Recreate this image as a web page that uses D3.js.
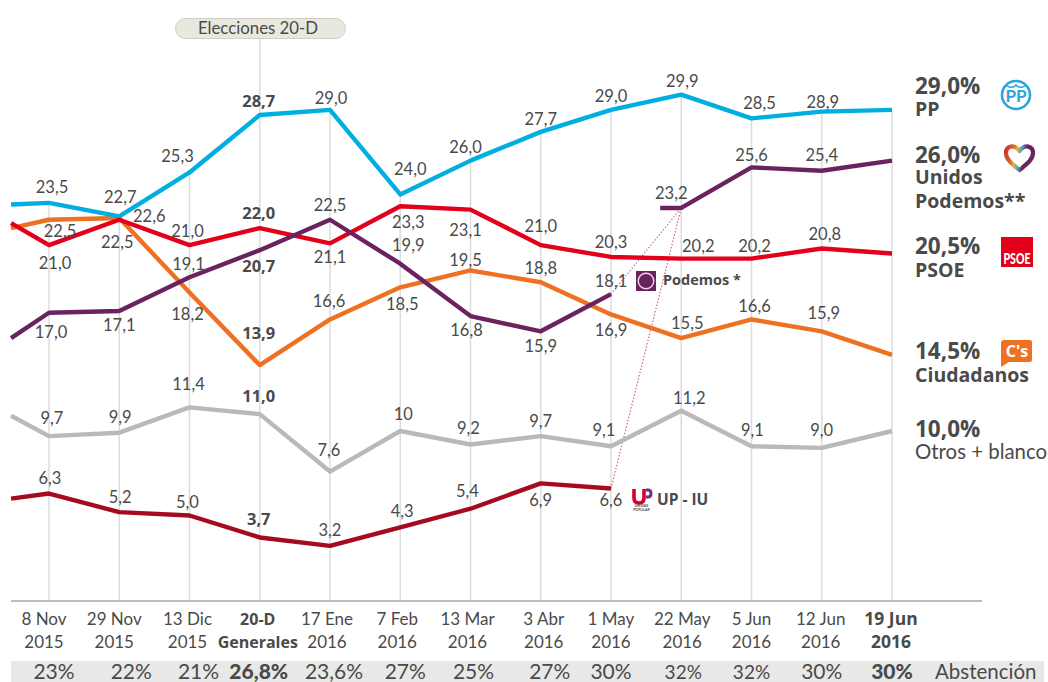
<!DOCTYPE html>
<html lang="es">
<head>
<meta charset="utf-8">
<script src="https://cdn.jsdelivr.net/npm/d3@7"></script>
<style>
  html, body { margin: 0; padding: 0; background: #fff; }
  svg { display: block; }
  text { font-family: Lato, "Open Sans", sans-serif; fill: #4a4a4a; }
  text.strong { font-family: "Open Sans", Lato, sans-serif; font-weight: 700; }
</style>
</head>
<body>
<svg id="chart" width="1048" height="682"></svg>
<script>
// Poll dates
const dateLine1 = ["8 Nov","29 Nov","13 Dic","20-D","17 Ene","7 Feb","13 Mar","3 Abr","1 May","22 May","5 Jun","12 Jun","19 Jun"];
const dateLine2 = ["2015","2015","2015","Generales","2016","2016","2016","2016","2016","2016","2016","2016","2016"];
const boldDates = [3, 12];
const abstention = ["23%","22%","21%","26,8%","23,6%","27%","25%","27%","30%","32%","32%","30%","30%"];

// Vote estimates per poll
const ppValues       = [23.5,22.7,25.3,28.7,29.0,24.0,26.0,27.7,29.0,29.9,28.5,28.9,29.0];
const psoeValues     = [21.0,22.5,21.0,22.0,21.1,23.3,23.1,21.0,20.3,20.2,20.2,20.8,20.5];
const csValues       = [22.5,22.6,18.2,13.9,16.6,18.5,19.5,18.8,16.9,15.5,16.6,15.9,14.5];
const podemosValues  = [17.0,17.1,19.1,20.7,22.5,19.9,16.8,15.9,18.1];
const unidosValues   = [23.2,25.6,25.4,26.0];
const otrosValues    = [9.7,9.9,11.4,11.0,7.6,10.0,9.2,9.7,9.1,11.2,9.1,9.0,10.0];
const upIuValues     = [6.3,5.2,5.0,3.7,3.2,4.3,5.4,6.9,6.6];

// Value of each series where it enters the plot, before the first poll
const ppLead = 23.4, psoeLead = 22.3, csLead = 22.0, podemosLead = 15.5, otrosLead = 10.9, upIuLead = 6.0;
const leadIndex = -0.54;
const unidosLeadIndex = 8.7;

// Printed value labels (the last poll of the main series is printed in the side legend instead)
const ppLabels      = ["23,5","22,7","25,3","28,7","29,0","24,0","26,0","27,7","29,0","29,9","28,5","28,9"];
const psoeLabels    = ["21,0","22,5","21,0","22,0","21,1","23,3","23,1","21,0","20,3","20,2","20,2","20,8"];
const csLabels      = ["22,5","22,6","18,2","13,9","16,6","18,5","19,5","18,8","16,9","15,5","16,6","15,9"];
const podemosLabels = ["17,0","17,1","19,1","20,7","22,5","19,9","16,8","15,9","18,1"];
const unidosLabels  = ["23,2","25,6","25,4"];
const otrosLabels   = ["9,7","9,9","11,4","11,0","7,6","10","9,2","9,7","9,1","11,2","9,1","9,0"];
const upIuLabels    = ["6,3","5,2","5,0","3,7","3,2","4,3","5,4","6,9","6,6"];

// Label nudges from their point, in px
const ppNudge      = [[3,-10],[1,-13],[-12,-10],[-1,-8],[1,-6],[10,-19],[-5,-8],[0,-7],[0,-8],[1,-8],[8,-9],[1,-4]];
const psoeNudge    = [[6,24],[-2,28],[-2,-8],[-1,-9],[0,20],[8,22],[-5,26],[0,-13],[0,-9],[17,-7],[3,-7],[3,-8]];
const csNudge      = [[11,17],[30,4],[-2,28],[-1,-26],[-1,-12],[2,23],[-5,-4],[0,-8],[0,22],[6,-9],[3,-7],[2,-12]];
const podemosNudge = [[2,25],[0,20],[-1,-7],[-1,22],[0,-9],[8,-13],[-4,20],[0,21],[0,-7]];
const unidosNudge  = [[-10,-9],[0,-6],[0,-10]];
const otrosNudge   = [[3,-12],[1,-10],[-1,-17],[-1,-12],[-1,-16],[3,-11],[-2,-11],[0,-9],[-7,-10],[8,-7],[1,-10],[0,-12]];
const upIuNudge    = [[1,-10],[1,-9],[-2,-8],[-1,-12],[0,-10],[2,-10],[-3,-12],[0,23],[0,18]];

const dateNudge = [-5,-5,-2,-2,-3,-3,-3,3,0,1,0,-1,-1];
const abstentionNudge = [5,12,9,-1,4,5,3,9,0,2,0,0,0];

const electionIndex = 3;

const colors = { pp:"#00aee0", psoe:"#e2001a", cs:"#ee7122", podemos:"#6b2360", otros:"#b9b9b9", upiu:"#a50a20" };

const svg = d3.select("#chart");
const x = d3.scaleLinear().domain([0, 12]).range([49, 892]);
const y = d3.scaleLinear().domain([0, 29.9]).range([600, 94.7]);
const baseY = 601;

const withIdx = (vals, start = 0) => vals.map((v, i) => [i + start, v]);
const lineGen = d3.line().x(d => x(d[0])).y(d => y(d[1]));

// Grey band behind the abstention row
svg.append("rect").attr("x", 11).attr("y", 661).attr("width", 1033).attr("height", 21).attr("fill", "#e8e8e8");

// Vertical guides: from the highest series down to the axis
const guides = svg.append("g").attr("stroke", "#dcdcdc").attr("stroke-width", 1.5);
ppValues.forEach((v, i) => {
  guides.append("line")
    .attr("x1", x(i)).attr("x2", x(i))
    .attr("y1", i === electionIndex ? 39 : y(v))
    .attr("y2", baseY);
});

// Baseline
svg.append("line").attr("x1", 11).attr("x2", 982).attr("y1", baseY).attr("y2", baseY)
  .attr("stroke", "#bdbdbd").attr("stroke-width", 2);

// Dotted connectors from the separate lists to the joint candidacy
const joinStart = [[8, podemosValues[8], "#a8709f"], [8, upIuValues[8], "#d4506e"]];
svg.append("g").selectAll("line").data(joinStart).join("line")
  .attr("x1", d => x(d[0])).attr("y1", d => y(d[1]))
  .attr("x2", x(9)).attr("y2", y(unidosValues[0]))
  .attr("stroke", d => d[2]).attr("stroke-width", 1.2).attr("stroke-dasharray", "1.3 2");

// Series lines
const lines = [
  { c: colors.otros,   pts: [[leadIndex, otrosLead],   ...withIdx(otrosValues)] },
  { c: colors.upiu,    pts: [[leadIndex, upIuLead],    ...withIdx(upIuValues)] },
  { c: colors.cs,      pts: [[leadIndex, csLead],      ...withIdx(csValues)] },
  { c: colors.pp,      pts: [[leadIndex, ppLead],      ...withIdx(ppValues)] },
  { c: colors.psoe,    pts: [[leadIndex, psoeLead],    ...withIdx(psoeValues)] },
  { c: colors.podemos, pts: [[leadIndex, podemosLead], ...withIdx(podemosValues)] },
  { c: colors.podemos, pts: [[unidosLeadIndex, unidosValues[0]], ...withIdx(unidosValues, 9)] }
];
svg.append("g").selectAll("path").data(lines).join("path")
  .attr("d", d => lineGen(d.pts))
  .attr("fill", "none").attr("stroke", d => d.c).attr("stroke-width", 4.4)
  .attr("stroke-linejoin", "round");

// Value labels
function valueLabels(vals, labels, nudges, start = 0) {
  labels.forEach((t, i) => {
    const idx = i + start;
    svg.append("text")
      .attr("class", idx === electionIndex ? "strong" : null)
      .attr("x", x(idx) + nudges[i][0]).attr("y", y(vals[i]) + nudges[i][1])
      .attr("text-anchor", "middle").attr("font-size", 16.5)
      .text(t);
  });
}
valueLabels(ppValues, ppLabels, ppNudge);
valueLabels(psoeValues, psoeLabels, psoeNudge);
valueLabels(csValues, csLabels, csNudge);
valueLabels(podemosValues, podemosLabels, podemosNudge);
valueLabels(unidosValues, unidosLabels, unidosNudge, 9);
valueLabels(otrosValues, otrosLabels, otrosNudge);
valueLabels(upIuValues, upIuLabels, upIuNudge);

// Date labels
dateLine1.forEach((t, i) => {
  const strong = boldDates.includes(i);
  [[t, 625], [dateLine2[i], 648]].forEach(row => {
    svg.append("text").attr("class", strong ? "strong" : null)
      .attr("x", x(i) + dateNudge[i]).attr("y", row[1])
      .attr("text-anchor", "middle").attr("font-size", i === 12 ? 17.5 : (strong ? 16 : 17)).text(row[0]);
  });
});

// Abstention row
abstention.forEach((t, i) => {
  const strong = boldDates.includes(i);
  svg.append("text")
    .attr("x", x(i) + abstentionNudge[i]).attr("y", 679)
    .attr("text-anchor", "middle")
    .attr("font-weight", strong ? 900 : 400)
    .attr("font-size", (i === 9 || i === 10) ? 19 : 21)
    .text(t);
});
svg.append("text").attr("x", 935).attr("y", 679).attr("font-size", 20.5).text("Abstención");

// Election marker pill
svg.append("rect").attr("x", 175.5).attr("y", 18.5).attr("width", 170).attr("height", 20).attr("rx", 10)
  .attr("fill", "#e9e8df").attr("stroke", "#cfcfc5");
svg.append("text").attr("x", 258).attr("y", 33.5).attr("text-anchor", "middle").attr("font-size", 16.8).text("Elecciones 20-D");

// Side legend: share, party name
const legendRows = [
  ["29,0%", 94, 22.5], ["PP", 116, 19.5],
  ["26,0%", 163, 22.5], ["Unidos", 184, 19.5], ["Podemos**", 208, 19.5],
  ["20,5%", 254, 22.5], ["PSOE", 277, 19.5],
  ["14,5%", 359, 22.5], ["Ciudadanos", 382, 19.5],
  ["10,0%", 437, 22.5]
];
svg.append("g").selectAll("text").data(legendRows).join("text")
  .attr("class", "strong").attr("x", 915).attr("y", d => d[1]).attr("font-size", d => d[2]).text(d => d[0]);
svg.append("text").attr("x", 915).attr("y", 459).attr("font-size", 20.4).text("Otros + blanco");

// Party badges
const pp = svg.append("g").attr("transform", "translate(1016,95)");
pp.append("circle").attr("r", 14).attr("fill", "#fff").attr("stroke", "#2ba3dc").attr("stroke-width", 2.6);
pp.append("text").attr("y", 7).attr("text-anchor", "middle").attr("font-size", 17).attr("font-weight", 700)
  .style("fill", "#2ba3dc").text("PP");
pp.append("path").attr("d", "M-9,-9 Q-3,-6 0,-10 Q3,-6 9,-9").attr("fill", "none").attr("stroke", "#2ba3dc").attr("stroke-width", 1.4);

const defs = svg.append("defs");
const heartGrad = defs.append("linearGradient").attr("id", "heartStroke").attr("x1", 0).attr("y1", 0).attr("x2", 1).attr("y2", 0.2);
[["0%","#c8322e"],["30%","#d9702c"],["42%","#e8b030"],["58%","#5aa5c8"],["75%","#6b2360"],["100%","#6b2360"]].forEach(s =>
  heartGrad.append("stop").attr("offset", s[0]).attr("stop-color", s[1]));
svg.append("path")
  .attr("transform", "translate(1019.5,157)")
  .attr("d", "M0,13 C-6,8 -13.5,3 -13.5,-4 C-13.5,-11.5 -5,-13 0,-6 C5,-13 13.5,-11.5 13.5,-4 C13.5,3 6,8 0,13 Z")
  .attr("fill", "none").attr("stroke", "url(#heartStroke)").attr("stroke-width", 4.2).attr("stroke-linejoin", "round");

svg.append("rect").attr("x", 1001).attr("y", 237).attr("width", 32).attr("height", 30).attr("fill", "#e2001a");
svg.append("text").attr("x", 1017).attr("y", 264).attr("text-anchor", "middle")
  .attr("font-size", 15.5).attr("font-weight", 900).attr("textLength", 27).attr("lengthAdjust", "spacingAndGlyphs")
  .style("fill", "#fff").text("PSOE");

svg.append("path").attr("d", "M1004,340 H1030 Q1032,340 1032,342 V360 Q1032,362 1030,362 H1009 L1001,367 V343 Q1001,340 1004,340 Z")
  .attr("fill", "#ee7122");
svg.append("text").attr("class", "strong").attr("x", 1017).attr("y", 357).attr("text-anchor", "middle")
  .attr("font-size", 16).style("fill", "#fff").text("C's");

svg.append("rect").attr("x", 636).attr("y", 271).attr("width", 20).attr("height", 20).attr("fill", "#6b2360");
svg.append("circle").attr("cx", 646).attr("cy", 281).attr("r", 7.8).attr("fill", "#6b2360").attr("stroke", "#e8dde6").attr("stroke-width", 1.4);
svg.append("text").attr("class", "strong").attr("x", 663).attr("y", 285).attr("font-size", 14.5).text("Podemos *");

// UP badge: red U, purple P, tiny caption
svg.append("path").attr("d", "M634,489 V498 Q634,503 639,503 Q644,503 644,498 V489")
  .attr("fill", "none").attr("stroke", "#d5002b").attr("stroke-width", 3.6);
svg.append("path").attr("d", "M646,490 H648 Q651,490 651,493.5 Q651,497 648,497 H646")
  .attr("fill", "none").attr("stroke", "#7b2a8a").attr("stroke-width", 3);
svg.append("text").attr("x", 641.5).attr("y", 507).attr("text-anchor", "middle").attr("font-size", 3.6).attr("font-weight", 700).text("UNIDAS");
svg.append("text").attr("x", 641.5).attr("y", 510.5).attr("text-anchor", "middle").attr("font-size", 3.6).attr("font-weight", 700).text("POPULAR");
svg.append("text").attr("class", "strong").attr("x", 657).attr("y", 505).attr("font-size", 15.5).text("UP - IU");
</script>
</body>
</html>
